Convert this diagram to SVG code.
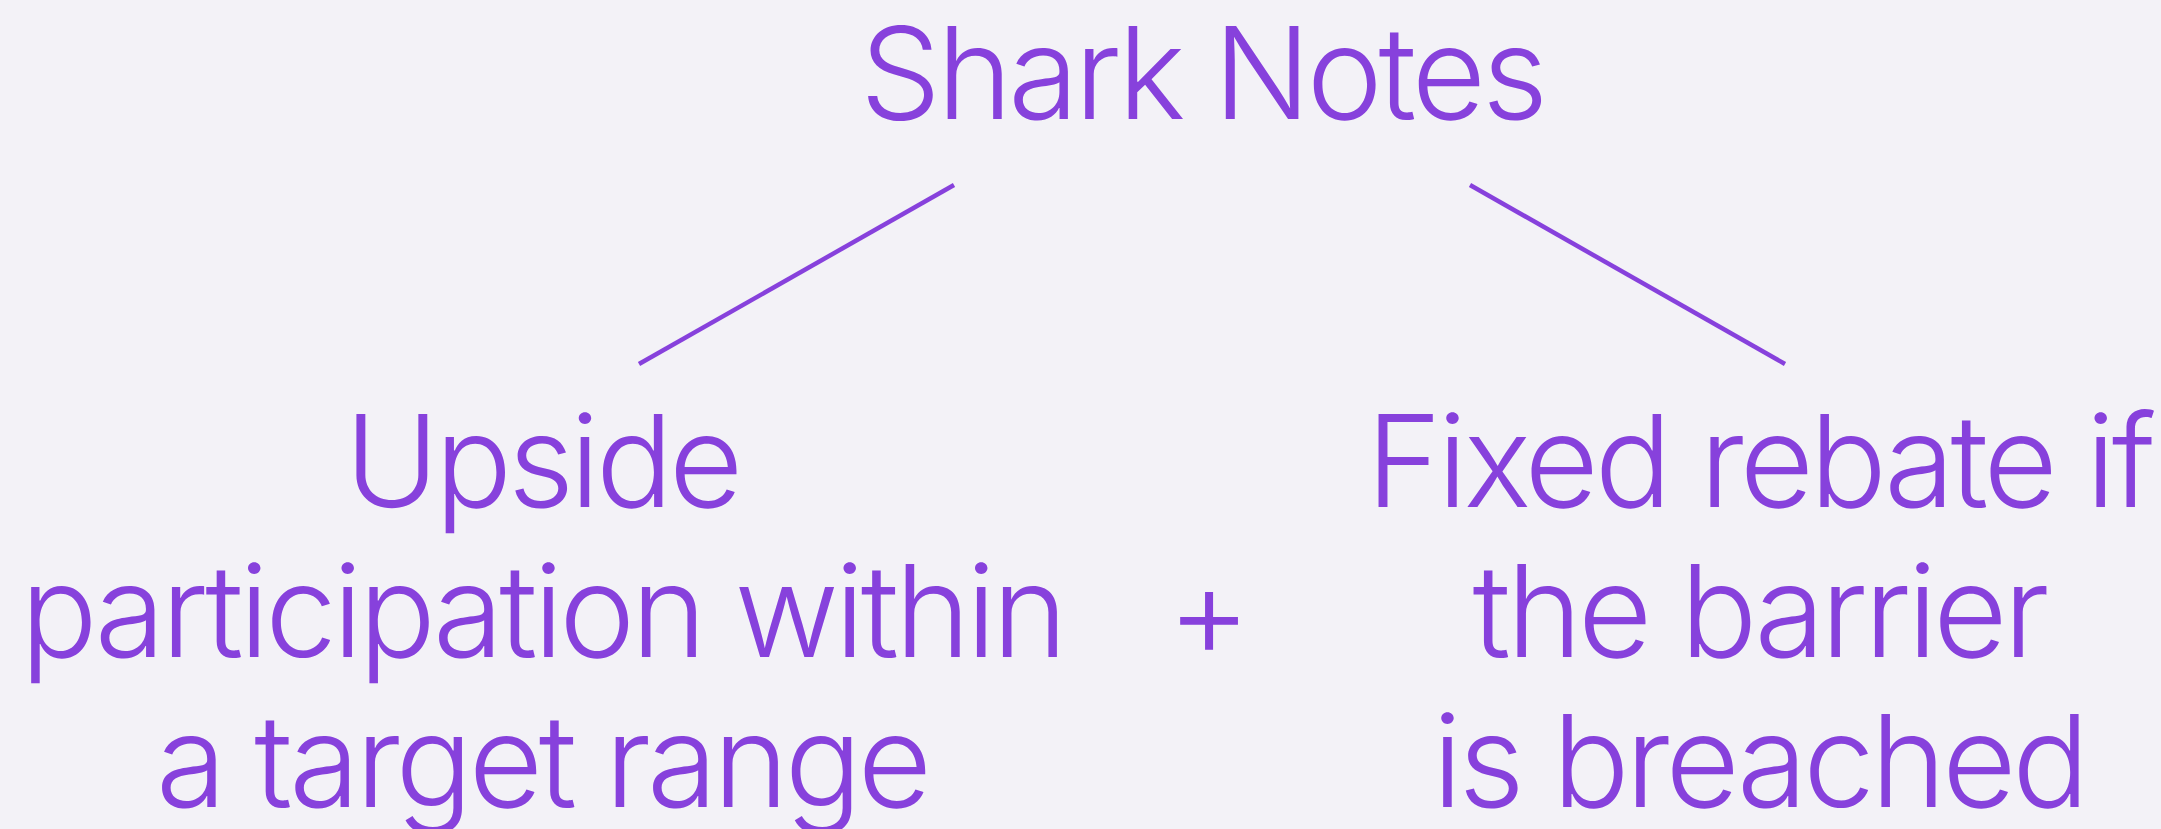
<svg xmlns="http://www.w3.org/2000/svg" width="2161" height="829" viewBox="0 0 2161 829">
  <style>
    .lbl { font-family: Inter, "Noto Sans", "Liberation Sans", sans-serif; font-size: 128px; font-weight: 300; letter-spacing: -4px; fill: #8741DC; text-anchor: middle; }
    .edge { stroke: #8741DC; stroke-width: 4.5; stroke-linecap: butt; fill: none; }
  </style>
  <rect width="2161" height="829" fill="#F3F2F7"/>

  <g id="connectors">
    <line class="edge" x1="954" y1="185" x2="639" y2="364"/>
    <line class="edge" x1="1470" y1="185" x2="1785" y2="364"/>
  </g>

  <g id="root">
    <text class="lbl" x="1202" y="119">Shark Notes</text>
  </g>

  <g id="upside">
    <text class="lbl" x="542" y="507">Upside</text>
    <text class="lbl" x="542" y="657">participation within</text>
    <text class="lbl" x="542" y="807">a target range</text>
  </g>

  <g id="plus">
    <text class="lbl" x="1207" y="657">+</text>
  </g>

  <g id="rebate">
    <text class="lbl" x="1759" y="507">Fixed rebate if</text>
    <text class="lbl" x="1759" y="657">the barrier</text>
    <text class="lbl" x="1759" y="807">is breached</text>
  </g>
</svg>
